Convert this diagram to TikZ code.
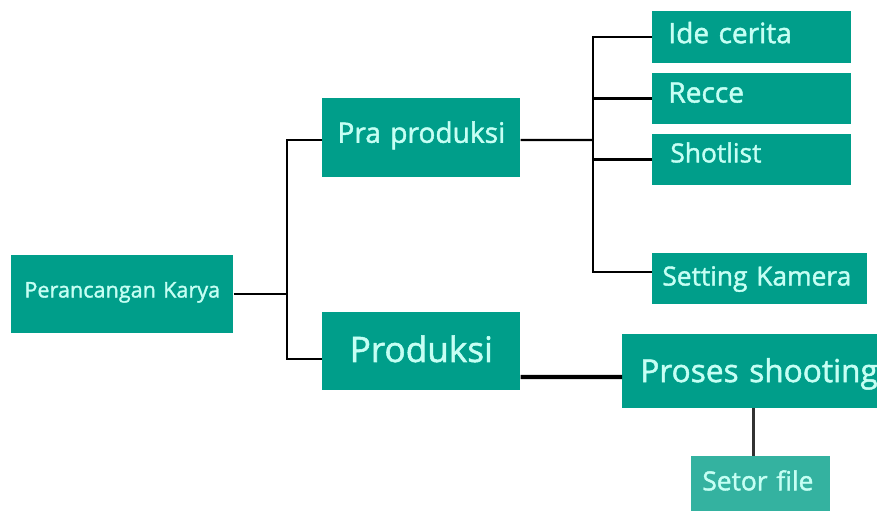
\documentclass[tikz,border=0pt]{standalone}
\usepackage{fontspec}
\setmainfont{Open Sans}[FakeBold=1.5]
\usetikzlibrary{positioning}

\definecolor{boxteal}{RGB}{0,158,138}
\definecolor{boxlight}{RGB}{52,178,160}
\definecolor{boxtext}{RGB}{198,255,244}
\definecolor{stemgray}{RGB}{50,50,50}

\begin{document}
\begin{tikzpicture}[
    x=0.02cm, y=-0.02cm,
    box/.style   = {fill=boxteal, text=boxtext, anchor=west, align=left, inner ysep=0pt},
    small/.style = {font=\fontsize{15}{18}\selectfont},
    mid/.style   = {font=\fontsize{16}{19}\selectfont},
    link/.style  = {draw=black, line width=1.3pt},
    bold/.style  = {draw=black, line width=2.3pt},
    stem/.style  = {draw=stemgray, line width=2pt}
]
\useasboundingbox (0,0) rectangle (877,511);
\clip (0,0) rectangle (877,511);

% root
\node[box, font=\fontsize{12.3}{14}\selectfont, align=center, minimum height=1.56cm, inner xsep=0.1cm,
      text width=4.24cm, text height=9pt, text depth=5pt] (kary) at (11,294) {Perancangan Karya};

% stages
\node[box, mid, align=center, minimum height=1.58cm, inner xsep=0.2cm,
      text width=3.56cm, text height=12pt, text depth=6pt] (pra) at (322,137.5) {Pra produksi};
\node[box, font=\fontsize{20}{24}\selectfont, align=center, minimum height=1.56cm, inner xsep=0.2cm,
      text width=3.56cm, text height=15pt, text depth=2.5pt] (prod) at (322,351) {Produksi};

% pra produksi steps
\node[box, mid, minimum height=1.04cm, inner xsep=0.32cm,
      text width=3.34cm, text height=12pt, text depth=5pt] (ide) at (652,37) {Ide cerita};
\node[box, mid, minimum height=1.02cm, inner xsep=0.32cm,
      text width=3.34cm, text height=11pt, text depth=6.4pt] (recce) at (652,98.5) {Recce};
\node[box, small, minimum height=1.02cm, inner xsep=0.36cm,
      text width=3.26cm, text height=10pt, text depth=6.7pt] (shot) at (652,159.5) {Shotlist};
\node[box, small, minimum height=1.02cm, inner xsep=0.2cm,
      text width=3.9cm, text height=11pt, text depth=3pt] (setk) at (652,278.5) {Setting Kamera};

% produksi steps
\node[box, font=\fontsize{18}{22}\selectfont, minimum height=1.48cm, inner xsep=0.36cm,
      text width=5.28cm, text height=14pt, text depth=1.4pt] (proses) at (622,371) {Proses shooting};
\node[box, small, fill=boxlight, minimum height=1.28cm, inner xsep=0.22cm,
      text width=2.34cm, text height=9pt, text depth=6.3pt] (setor) at (691,488) {Setor file};

% root -> stages
\coordinate (j1) at (287,294);
\draw[link] (kary.east) -- (j1);
\draw[link] ([yshift=-0.05cm]pra.west) -| (j1) |- ([yshift=-0.16cm]prod.west);

% pra produksi -> steps
\coordinate (j2) at (593,140);
\draw[link] ([yshift=-0.05cm]pra.east) -- (j2);
\draw[link] (ide.west) -| (j2) |- ([yshift=0.13cm]setk.west);
\draw[link] (recce.west) -- (recce.west -| j2);
\draw[link] (shot.west) -- (shot.west -| j2);

% produksi -> proses -> setor
\draw[bold] ([yshift=-0.52cm]prod.east) -- ([yshift=-0.12cm]proses.west);
\draw[stem] ([xshift=-0.15cm]setor.north) -- ([xshift=-0.15cm]setor.north |- proses.south);

\end{tikzpicture}
\end{document}
